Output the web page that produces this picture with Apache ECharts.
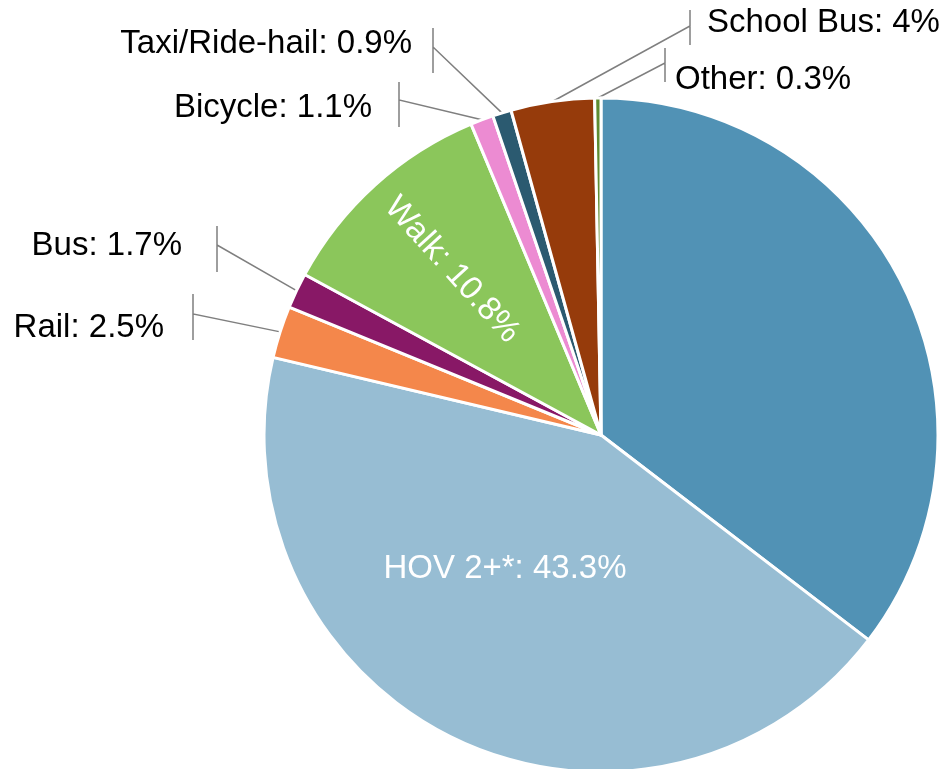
<!DOCTYPE html>
<html>
<head>
<meta charset="utf-8">
<title>Mode share</title>
<script src="https://cdn.jsdelivr.net/npm/echarts@6.0.0/dist/echarts.min.js"></script>
<style>
html, body { margin: 0; padding: 0; background: #ffffff; }
#chart { width: 949px; height: 769px; }
</style>
</head>
<body>
<div id="chart"></div>
<script>
// travel modes, clockwise from 12 o'clock
var modes = ['Drive Alone', 'HOV 2+*', 'Rail', 'Bus', 'Walk', 'Bicycle', 'Taxi/Ride-hail', 'School Bus', 'Other']
// share of trips (%)
var shares = [35.4, 43.3, 2.5, 1.7, 10.8, 1.1, 0.9, 4, 0.3]
// slice colours
var colors = ['#5192b5', '#97bdd3', '#f4874b', '#881866', '#8bc65b', '#ec8bd2', '#2b5a70', '#963b0b', '#5e8c31']

// callout text spot + the little tick bar the leader line runs into
var callouts = {
  'Rail': { tx: 164, ty: 328, side: 'left', bx: 193, top: 294, bottom: 340, join: 314 },
  'Bus': { tx: 182, ty: 246, side: 'left', bx: 217, top: 226, bottom: 272, join: 245 },
  'Bicycle': { tx: 372, ty: 108, side: 'left', bx: 399, top: 82, bottom: 127, join: 100 },
  'Taxi/Ride-hail': { tx: 412, ty: 44, side: 'left', bx: 433, top: 28, bottom: 73, join: 47 },
  'School Bus': { tx: 707, ty: 23, side: 'right', bx: 690, top: 10, bottom: 45, join: 26 },
  'Other': { tx: 675, ty: 80, side: 'right', bx: 665, top: 48, bottom: 82, join: 63 }
}
// labels drawn on the slice itself
var insideSpots = {
  'HOV 2+*': { x: 505, y: 569 },
  'Walk': { x: 452, y: 270 }
}

var textFont = 'Liberation Sans, Arial, sans-serif'

function buildData () {
  var list = []
  for (var i = 0; i < modes.length; i++) {
    var name = modes[i]
    var item = {
      name: name,
      value: shares[i],
      itemStyle: { color: colors[i] }
    }
    if (insideSpots[name]) {
      item.label = {
        show: true,
        position: 'inside',
        color: '#ffffff',
        rotate: name === 'Walk' ? 'radial' : 0
      }
      item.labelLine = { show: false }
    } else if (callouts[name]) {
      item.label = { show: true, position: 'outside', color: '#000000' }
      item.labelLine = { show: true }
    } else {
      // drive alone slice carries no label
      item.label = { show: false }
      item.labelLine = { show: false }
    }
    list.push(item)
  }
  return list
}

var chart = echarts.init(document.getElementById('chart'), null, { renderer: 'canvas' })
chart.setOption({
  animation: false,
  backgroundColor: '#ffffff',
  series: [
    {
      type: 'pie',
      center: [601, 435],
      radius: 337,
      startAngle: 90,
      clockwise: true,
      avoidLabelOverlap: false,
      silent: true,
      itemStyle: {
        borderColor: '#ffffff',
        borderWidth: 3
      },
      label: {
        fontFamily: textFont,
        fontSize: 33,
        formatter: '{b}: {c}%'
      },
      labelLine: {
        smooth: false,
        lineStyle: { color: '#7f7f7f', width: 1.5 }
      },
      labelLayout: function (params) {
        var name = modes[params.dataIndex]
        var c = callouts[name]
        if (c) {
          var start = params.labelLinePoints ? params.labelLinePoints[0] : [c.bx, c.join]
          return {
            x: c.tx,
            y: c.ty,
            align: c.side === 'left' ? 'right' : 'left',
            verticalAlign: 'middle',
            labelLinePoints: [start, [c.bx, c.join], [c.bx, c.top], [c.bx, c.bottom]]
          }
        }
        var s = insideSpots[name]
        if (s) {
          return { x: s.x, y: s.y, align: 'center', verticalAlign: 'middle' }
        }
        return {}
      },
      data: buildData()
    }
  ]
})
</script>
</body>
</html>
